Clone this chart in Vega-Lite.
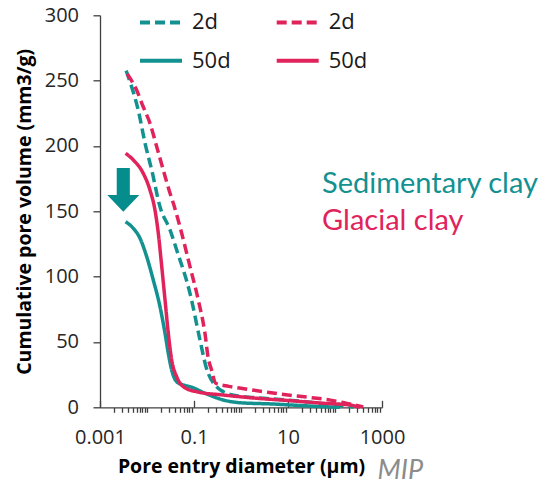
{
  "$schema": "https://vega.github.io/schema/vega-lite/v6.json",
  "width": 282,
  "height": 392,
  "autosize": {"type": "none"},
  "padding": {"left": 100, "top": 15.3, "right": 163, "bottom": 79},
  "background": "white",
  "config": {"view": {"stroke": null}, "font": "Open Sans"},
  "layer": [
    {
      "data": {
        "values": [
          {"series": "sed2d", "d": 0.0036, "v": 257.6},
          {"series": "sed2d", "d": 0.0047, "v": 245.4},
          {"series": "sed2d", "d": 0.0065, "v": 227.5},
          {"series": "sed2d", "d": 0.0091, "v": 202},
          {"series": "sed2d", "d": 0.0126, "v": 181.6},
          {"series": "sed2d", "d": 0.0189, "v": 153.5},
          {"series": "sed2d", "d": 0.0309, "v": 135.7},
          {"series": "sed2d", "d": 0.0428, "v": 120.4},
          {"series": "sed2d", "d": 0.0822, "v": 87.2},
          {"series": "sed2d", "d": 0.134, "v": 51.5},
          {"series": "sed2d", "d": 0.18, "v": 31.1},
          {"series": "sed2d", "d": 0.3, "v": 15.8},
          {"series": "sed2d", "d": 0.42, "v": 11.9},
          {"series": "sed2d", "d": 0.7, "v": 9.2},
          {"series": "sed2d", "d": 2, "v": 7.4},
          {"series": "sed2d", "d": 10, "v": 5.5},
          {"series": "sed2d", "d": 50, "v": 3},
          {"series": "sed2d", "d": 120, "v": 1.5},
          {"series": "sed2d", "d": 250, "v": 0.3},

          {"series": "sed50d", "d": 0.0035, "v": 142},
          {"series": "sed50d", "d": 0.0051, "v": 137},
          {"series": "sed50d", "d": 0.0071, "v": 129.3},
          {"series": "sed50d", "d": 0.00985, "v": 115.3},
          {"series": "sed50d", "d": 0.0136, "v": 97.4},
          {"series": "sed50d", "d": 0.0189, "v": 77},
          {"series": "sed50d", "d": 0.0242, "v": 56.6},
          {"series": "sed50d", "d": 0.0284, "v": 41.3},
          {"series": "sed50d", "d": 0.0335, "v": 28.5},
          {"series": "sed50d", "d": 0.0428, "v": 19.6},
          {"series": "sed50d", "d": 0.0592, "v": 17.1},
          {"series": "sed50d", "d": 0.082, "v": 15.8},
          {"series": "sed50d", "d": 0.186, "v": 10.2},
          {"series": "sed50d", "d": 0.42, "v": 5.6},
          {"series": "sed50d", "d": 0.95, "v": 3.5},
          {"series": "sed50d", "d": 4.9, "v": 2.5},
          {"series": "sed50d", "d": 11, "v": 1.8},
          {"series": "sed50d", "d": 48, "v": 0.6},
          {"series": "sed50d", "d": 127, "v": 0},

          {"series": "gla2d", "d": 0.0038, "v": 255},
          {"series": "gla2d", "d": 0.006, "v": 242.8},
          {"series": "gla2d", "d": 0.0083, "v": 230},
          {"series": "gla2d", "d": 0.0116, "v": 217.3},
          {"series": "gla2d", "d": 0.0161, "v": 199.4},
          {"series": "gla2d", "d": 0.0222, "v": 181.6},
          {"series": "gla2d", "d": 0.0309, "v": 163.8},
          {"series": "gla2d", "d": 0.0362, "v": 156.3},
          {"series": "gla2d", "d": 0.0547, "v": 133.2},
          {"series": "gla2d", "d": 0.0822, "v": 107.6},
          {"series": "gla2d", "d": 0.1234, "v": 82.1},
          {"series": "gla2d", "d": 0.171, "v": 56.6},
          {"series": "gla2d", "d": 0.2, "v": 38},
          {"series": "gla2d", "d": 0.237, "v": 28.5},
          {"series": "gla2d", "d": 0.29, "v": 18.4},
          {"series": "gla2d", "d": 0.55, "v": 16},
          {"series": "gla2d", "d": 1, "v": 14.5},
          {"series": "gla2d", "d": 3, "v": 12},
          {"series": "gla2d", "d": 10, "v": 9.4},
          {"series": "gla2d", "d": 30, "v": 7.5},
          {"series": "gla2d", "d": 80, "v": 5.5},
          {"series": "gla2d", "d": 180, "v": 3},
          {"series": "gla2d", "d": 400, "v": 0.3},

          {"series": "gla50d", "d": 0.0035, "v": 194.4},
          {"series": "gla50d", "d": 0.0051, "v": 189.3},
          {"series": "gla50d", "d": 0.0083, "v": 179.1},
          {"series": "gla50d", "d": 0.0116, "v": 166.1},
          {"series": "gla50d", "d": 0.0148, "v": 150.8},
          {"series": "gla50d", "d": 0.0174, "v": 133.2},
          {"series": "gla50d", "d": 0.0206, "v": 107.6},
          {"series": "gla50d", "d": 0.0242, "v": 82.1},
          {"series": "gla50d", "d": 0.0284, "v": 56.6},
          {"series": "gla50d", "d": 0.0335, "v": 36.2},
          {"series": "gla50d", "d": 0.0428, "v": 23.4},
          {"series": "gla50d", "d": 0.0592, "v": 15.8},
          {"series": "gla50d", "d": 0.114, "v": 11.9},
          {"series": "gla50d", "d": 0.42, "v": 9.4},
          {"series": "gla50d", "d": 2.2, "v": 6.9},
          {"series": "gla50d", "d": 11, "v": 5.1},
          {"series": "gla50d", "d": 56, "v": 3.1},
          {"series": "gla50d", "d": 205, "v": 1.8},
          {"series": "gla50d", "d": 340, "v": 0}
        ]
      },
      "mark": {"type": "line", "interpolate": "monotone", "strokeWidth": 3.5},
      "encoding": {
        "x": {
          "field": "d",
          "type": "quantitative",
          "scale": {"type": "log", "domain": [0.001, 1000], "nice": false},
          "axis": {
            "values": [0.001, 0.002, 0.003, 0.004, 0.005, 0.006, 0.007, 0.008, 0.009,
                       0.01, 0.02, 0.03, 0.04, 0.05, 0.06, 0.07, 0.08, 0.09,
                       0.1, 0.2, 0.3, 0.4, 0.5, 0.6, 0.7, 0.8, 0.9,
                       1, 2, 3, 4, 5, 6, 7, 8, 9,
                       10, 20, 30, 40, 50, 60, 70, 80, 90,
                       100, 200, 300, 400, 500, 600, 700, 800, 900, 1000],
            "labelExpr": "datum.value == 0.001 ? '0.001' : datum.value == 0.1 ? '0.1' : datum.value == 10 ? '10' : datum.value == 1000 ? '1000' : ''",
            "tickSize": {"condition": {"test": "datum.value == 0.1 || datum.value == 10 || datum.value == 1000 || datum.value == 0.001", "value": -7}, "value": 5},
            "tickColor": "#404040",
            "tickWidth": 1.3,
            "domainColor": "#404040",
            "domainWidth": 1.3,
            "grid": false,
            "labelOverlap": false,
            "labelFlush": false,
            "labelBound": false,
            "labelFont": "Open Sans",
            "labelFontSize": 20,
            "labelColor": "#262626",
            "labelPadding": 27,
            "title": "Pore entry diameter (µm)",
            "titleFont": "Open Sans",
            "titleFontSize": 19.5,
            "titleFontWeight": "bold",
            "titleColor": "#000000",
            "titlePadding": -2
          }
        },
        "y": {
          "field": "v",
          "type": "quantitative",
          "scale": {"domain": [0, 300], "nice": false},
          "axis": {
            "values": [0, 50, 100, 150, 200, 250, 300],
            "tickSize": 7,
            "tickColor": "#404040",
            "tickWidth": 1.3,
            "domainColor": "#404040",
            "domainWidth": 1.3,
            "grid": false,
            "labelFont": "Open Sans",
            "labelFontSize": 20,
            "labelColor": "#262626",
            "labelPadding": 14.5,
            "title": "Cumulative pore volume (mm3/g)",
            "titleFont": "Open Sans",
            "titleFontSize": 19.5,
            "titleFontWeight": "bold",
            "titleColor": "#000000",
            "titlePadding": 10
          }
        },
        "color": {
          "field": "series",
          "type": "nominal",
          "scale": {"domain": ["sed2d", "sed50d", "gla2d", "gla50d"], "range": ["#139191", "#139191", "#E0245B", "#E0245B"]},
          "legend": {
            "title": null,
            "orient": "none",
            "legendX": 48.5,
            "legendY": -5.6,
            "columns": 2,
            "columnPadding": 36.7,
            "rowPadding": 14.6,
            "padding": 0,
            "symbolType": "M-2,0L2,0",
            "symbolSize": 441,
            "symbolStrokeWidth": 4,
            "labelOffset": 18.5,
            "labelFont": "Open Sans",
            "labelFontSize": 22,
            "labelColor": "#1a1a1a",
            "labelExpr": "indexof(datum.label, '50d') >= 0 ? '50d' : '2d'"
          }
        },
        "strokeDash": {
          "field": "series",
          "type": "nominal",
          "scale": {"domain": ["sed2d", "sed50d", "gla2d", "gla50d"], "range": [[10, 5], [1, 0], [10, 5], [1, 0]]}
        }
      }
    },
    {
      "data": {"values": [{"d": 0.00313, "v": 166.4}]},
      "mark": {
        "type": "point",
        "shape": "M-0.41,-1.37L0.41,-1.37L0.41,0.32L1,0.32L0,1.37L-1,0.32L-0.41,0.32Z",
        "size": 1024,
        "filled": true,
        "opacity": 1,
        "color": "#058C8C",
        "strokeWidth": 0
      },
      "encoding": {
        "x": {"field": "d", "type": "quantitative"},
        "y": {"field": "v", "type": "quantitative"}
      }
    },
    {
      "data": {"values": [{"d": 53, "v": 164, "label": "Sedimentary clay"}]},
      "mark": {"type": "text", "font": "Lato", "fontSize": 29, "align": "left", "baseline": "alphabetic", "color": "#139191"},
      "encoding": {
        "x": {"field": "d", "type": "quantitative"},
        "y": {"field": "v", "type": "quantitative"},
        "text": {"field": "label"}
      }
    },
    {
      "data": {"values": [{"d": 53, "v": 135.7, "label": "Glacial clay"}]},
      "mark": {"type": "text", "font": "Lato", "fontSize": 29, "align": "left", "baseline": "alphabetic", "color": "#E0245B"},
      "encoding": {
        "x": {"field": "d", "type": "quantitative"},
        "y": {"field": "v", "type": "quantitative"},
        "text": {"field": "label"}
      }
    },
    {
      "data": {"values": [{"d": 806, "v": -54.5, "label": "MIP"}]},
      "mark": {"type": "text", "font": "Lato", "fontSize": 27, "fontStyle": "italic", "align": "left", "baseline": "alphabetic", "color": "#8C8C8C"},
      "encoding": {
        "x": {"field": "d", "type": "quantitative"},
        "y": {"field": "v", "type": "quantitative"},
        "text": {"field": "label"}
      }
    }
  ]
}
